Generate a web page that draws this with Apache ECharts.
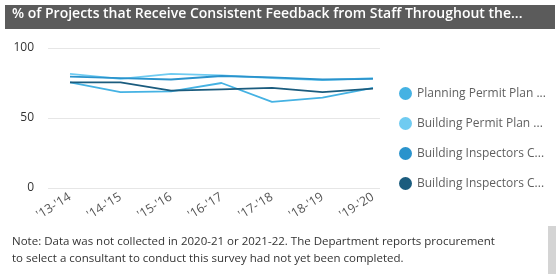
<!DOCTYPE html>
<html>
<head>
<meta charset="utf-8">
<script src="https://cdn.jsdelivr.net/npm/echarts@6/dist/echarts.min.js"></script>
<style>
  html, body { margin: 0; padding: 0; background: #fff; }
  #container { width: 559px; height: 274px; }
</style>
</head>
<body>
<div id="container"></div>
<script>
var years = ["'13-'14", "'14-'15", "'15-'16", "'16-'17", "'17-'18", "'18-'19", "'19-'20"];
var seriesNames = [
    'Planning Permit Plan Review',
    'Building Permit Plan Review',
    'Building Inspectors Commercial',
    'Building Inspectors Combination'
];
var planningPermit = [75.5, 68.5, 69, 75, 61.5, 64.5, 71.5];
var buildingPermit = [81.5, 78, 81.5, 80.5, 78.5, 77, 78.5];
var inspectorsA = [79.5, 78.5, 77.5, 80, 79, 77.5, 78];
var inspectorsB = [75.5, 75.5, 69.5, 70.5, 71.5, 68.5, 71];
var colors = ['#45b2e3', '#6fcbf1', '#2a93cc', '#1b5c7e'];
var yTicks = [0, 50, 100];

var dom = document.getElementById("container");
var myChart = echarts.init(dom);
var font = "'Open Sans', 'Noto Sans', sans-serif";

var allData = [planningPermit, buildingPermit, inspectorsA, inspectorsB];
var yearIdx = years.map(function (y, i) { return i; });

option = {
    animation: false,
    color: colors,
    textStyle: { fontFamily: font },
    graphic: [
        {
            type: 'rect',
            shape: { x: 5, y: 5, width: 550, height: 24 },
            style: { fill: '#5b5b5b' }
        },
        {
            type: 'text',
            left: 12,
            top: 7,
            style: {
                text: '% of Projects that Receive Consistent Feedback from Staff Throughout the...',
                fill: '#ffffff',
                font: "600 14px " + font
            }
        },
        {
            type: 'text',
            left: 12,
            top: 236,
            style: {
                text: 'Note: Data was not collected in 2020-21 or 2021-22. The Department reports procurement',
                fill: '#333333',
                font: "11.5px " + font
            }
        },
        {
            type: 'text',
            left: 12,
            top: 253,
            style: {
                text: 'to select a consultant to conduct this survey had not yet been completed.',
                fill: '#333333',
                font: "11.5px " + font
            }
        },
        {
            type: 'rect',
            shape: { x: 548, y: 226, width: 8, height: 48 },
            style: { fill: '#d4d4d4' }
        }
    ],
    legend: {
        orient: 'vertical',
        left: 394,
        top: 82,
        itemGap: 17,
        icon: 'circle',
        itemWidth: 13,
        itemHeight: 13,
        data: seriesNames,
        textStyle: {
            color: '#606060',
            fontSize: 12,
            fontFamily: font,
            width: 132,
            overflow: 'truncate',
            ellipsis: '...'
        }
    },
    grid: {
        left: 48,
        right: 179,
        top: 48,
        bottom: 86
    },
    xAxis: {
        type: 'value',
        min: -0.436,
        max: 6.139,
        axisLine: { show: false },
        axisTick: { show: false },
        splitLine: { show: false },
        axisLabel: {
            customValues: yearIdx,
            formatter: function (v) { return years[Math.round(v)]; },
            rotate: 32,
            color: '#555555',
            fontSize: 12.5,
            margin: 8
        }
    },
    yAxis: {
        type: 'value',
        min: yTicks[0],
        max: yTicks[yTicks.length - 1],
        interval: yTicks[1] - yTicks[0],
        axisLine: { show: false },
        axisTick: { show: false },
        axisLabel: { color: '#333333', fontSize: 12, margin: 14 },
        splitLine: { lineStyle: { color: '#e6e6e6' } }
    },
    series: allData.map(function (d, i) {
        return {
            name: seriesNames[i],
            type: 'line',
            data: d.map(function (v, j) { return [yearIdx[j], v]; }),
            showSymbol: false,
            symbol: 'none',
            lineStyle: { width: 1.8, color: colors[i] }
        };
    })
};

if (option && typeof option === "object") {
    myChart.setOption(option, true);
}
</script>
</body>
</html>
